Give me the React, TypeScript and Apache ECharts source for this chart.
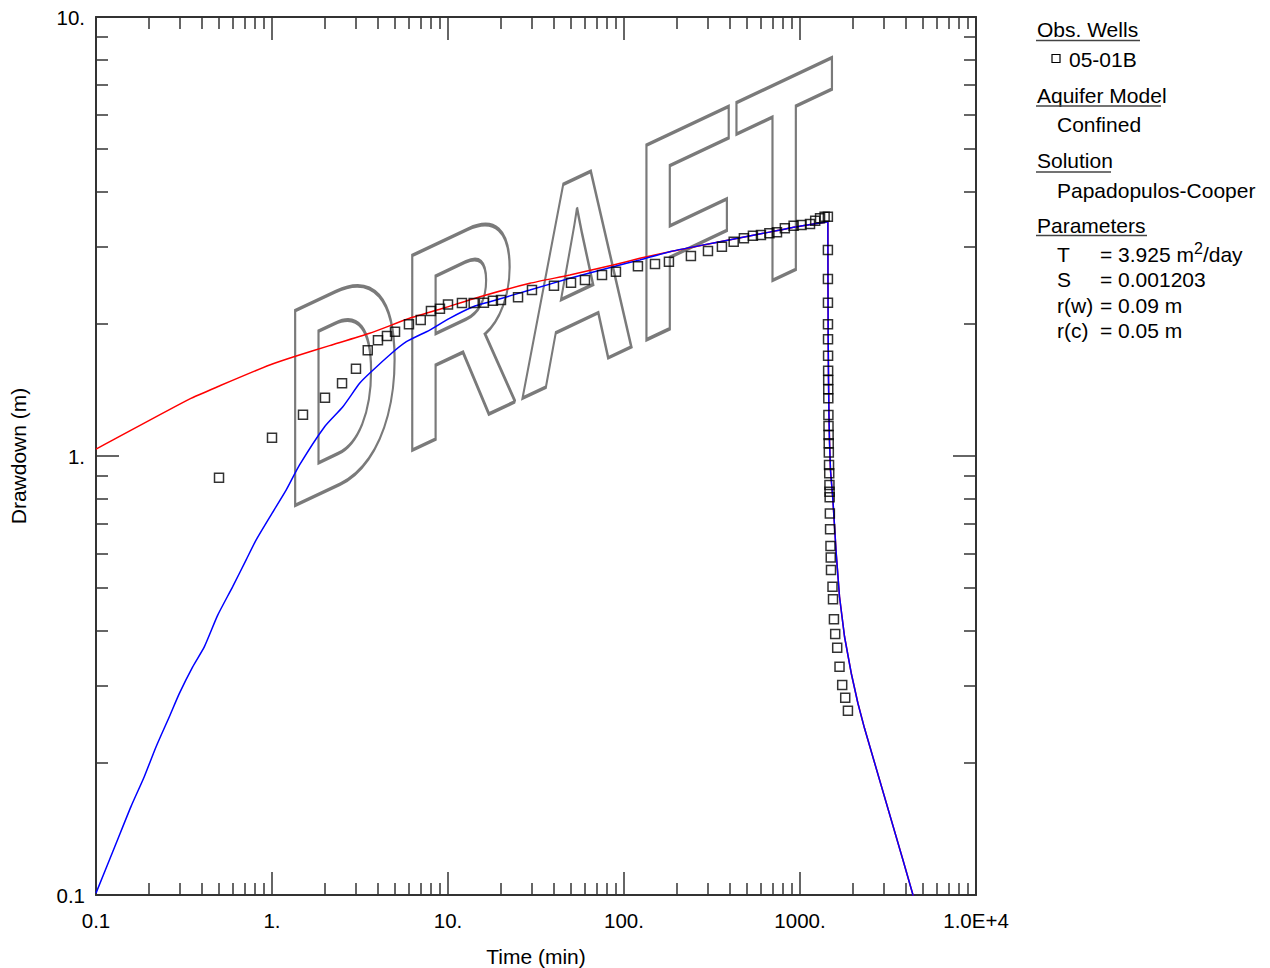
import React, { useEffect, useRef } from 'react';
import * as echarts from 'echarts';

const FONT = '"Liberation Sans", Arial, Helvetica, sans-serif';
const AX = '#333333';

// ---- tick values / labels ----
const xTickValues = [0.1, 1, 10, 100, 1000, 10000];
const xTickLabels = ['0.1', '1.', '10.', '100.', '1000.', '1.0E+4'];
const yTickValues = [0.1, 1, 10];
const yTickLabels = ['0.1', '1.', '10.'];
const minorMultipliers = [2, 3, 4, 5, 6, 7, 8, 9];
const xDecades = [0.1, 1, 10, 100, 1000];
const yDecades = [0.1, 1];

// ---- observed data (05-01B) ----
const obsTime = [
  0.5, 1, 1.5, 2, 2.5, 3, 3.5, 4, 4.5, 5, 6, 7, 8, 9, 10, 12, 14, 16, 18, 20,
  25, 30, 40, 50, 60, 75, 90, 120, 150, 180, 240, 300, 360, 420, 480, 540, 600,
  670, 740, 820, 920, 1020, 1140, 1220, 1300, 1380, 1440,
  1440.5, 1441, 1441.5, 1442, 1443, 1444, 1445, 1446, 1447, 1448, 1450, 1452,
  1454, 1456, 1458, 1462, 1466, 1470, 1472, 1474, 1478, 1482, 1490, 1495, 1500,
  1530, 1540, 1559, 1585, 1627, 1677, 1737, 1807, 1872,
];
const obsDrawdown = [
  0.892, 1.10, 1.242, 1.358, 1.464, 1.581, 1.741, 1.834, 1.876, 1.919, 1.995,
  2.04, 2.14, 2.165, 2.215, 2.23, 2.23, 2.234, 2.258, 2.267, 2.299, 2.388, 2.443,
  2.482, 2.517, 2.584, 2.63, 2.707, 2.737, 2.771, 2.855, 2.931, 2.998, 3.077,
  3.132, 3.175, 3.187, 3.216, 3.233, 3.302, 3.347, 3.359, 3.377, 3.436, 3.479,
  3.508, 3.508,
  2.946, 2.531, 2.235, 1.995, 1.844, 1.692, 1.564, 1.49, 1.419, 1.353, 1.24,
  1.17, 1.116, 1.069, 1.019, 0.954, 0.913, 0.859, 0.829, 0.805, 0.74, 0.681,
  0.624, 0.587, 0.55, 0.504, 0.472, 0.425, 0.393, 0.366, 0.331, 0.301, 0.2814,
  0.263,
];

// ---- Papadopulos-Cooper curve (blue) during pumping ----
const blueTime = [
  0.1, 0.13, 0.158, 0.188, 0.2195, 0.261, 0.2977, 0.3543, 0.413, 0.4916, 0.598,
  0.713, 0.813, 1.0, 1.205, 1.434, 1.99, 2.527, 3.146, 3.585, 4.66, 5.8, 7.87,
  10.2, 13.9, 17.3, 29.2, 49.2, 86.8, 123, 182, 351, 619, 959, 1440,
];
const blueDrawdown = [
  0.101, 0.131, 0.159, 0.186, 0.2177, 0.2548, 0.288, 0.331, 0.368, 0.434, 0.504,
  0.58, 0.644, 0.74, 0.837, 0.954, 1.166, 1.295, 1.464, 1.543, 1.699, 1.821,
  1.936, 2.059, 2.188, 2.246, 2.388, 2.54, 2.699, 2.796, 2.92, 3.077, 3.216,
  3.329, 3.418,
];

// ---- red curve during pumping ----
const redTime = [
  0.1, 0.1243, 0.3394, 0.503, 0.97, 1.373, 2.124, 3.585, 6.05, 9.37, 15.2, 29.2,
  49.2, 86.8, 123, 182, 351, 619, 959, 1440,
];
const redDrawdown = [
  1.037, 1.087, 1.348, 1.444, 1.612, 1.69, 1.784, 1.903, 2.059, 2.17, 2.306,
  2.474, 2.584, 2.723, 2.82, 2.92, 3.077, 3.216, 3.329, 3.418,
];

// ---- recovery part of both curves ----
const recoveryTime = [
  1440, 1441, 1443, 1446, 1452, 1460, 1471, 1490, 1538, 1606, 1677, 1790, 1955,
  2133, 2326, 3846, 4386, 4700,
];
const recoveryDrawdown = [
  3.418, 2.9, 2.3, 1.85, 1.5, 1.25, 1.08, 0.929, 0.794, 0.6, 0.478, 0.388, 0.32,
  0.2734, 0.2397, 0.1201, 0.1, 0.092,
];

const X_MIN = 0.09999999;
const X_MAX = 10000.0001;
const Y_MIN = 0.09999999;
const Y_MAX = 10.000001;

function zip(t: number[], s: number[]) {
  return t.map((v, i) => [v, s[i]]);
}

function minorValues(decades: number[]) {
  const out: number[] = [];
  decades.forEach((d) =>
    minorMultipliers.forEach((m) => out.push(parseFloat((d * m).toPrecision(6))))
  );
  return out;
}

function makeFormatter(vals: number[], labels: string[]) {
  return (v: number) => {
    const i = vals.findIndex((t) => Math.abs(Math.log10(v / t)) < 1e-4);
    return i >= 0 ? labels[i] : '';
  };
}

function xAxis(
  gridIndex: number,
  position: string,
  ticks: number[],
  len: number,
  showLine: boolean,
  showLabel: boolean
) {
  return {
    type: 'log',
    logBase: 10,
    gridIndex,
    position,
    min: X_MIN,
    max: X_MAX,
    axisLine: { show: showLine, onZero: false, lineStyle: { color: AX, width: 2 } },
    axisTick: {
      show: true,
      inside: true,
      length: len,
      customValues: ticks,
      lineStyle: { color: AX, width: 1.5 },
    },
    axisLabel: {
      show: showLabel,
      customValues: xTickValues,
      formatter: makeFormatter(xTickValues, xTickLabels),
      margin: 15,
      fontSize: 20.5,
      fontFamily: FONT,
      color: '#000',
      hideOverlap: false,
    },
    splitLine: { show: false },
    minorTick: { show: false },
  };
}

function yAxis(
  gridIndex: number,
  position: string,
  ticks: number[],
  len: number,
  showLine: boolean,
  showLabel: boolean
) {
  return {
    type: 'log',
    logBase: 10,
    gridIndex,
    position,
    min: Y_MIN,
    max: Y_MAX,
    axisLine: { show: showLine, onZero: false, lineStyle: { color: AX, width: 2 } },
    axisTick: {
      show: true,
      inside: true,
      length: len,
      customValues: ticks,
      lineStyle: { color: AX, width: 1.5 },
    },
    axisLabel: {
      show: showLabel,
      customValues: yTickValues,
      formatter: makeFormatter(yTickValues, yTickLabels),
      margin: 11,
      fontSize: 20.5,
      fontFamily: FONT,
      color: '#000',
      hideOverlap: false,
    },
    splitLine: { show: false },
    minorTick: { show: false },
  };
}

function draftWatermark() {
  // horizontal compression and baseline slope of the outlined word
  const sxw = 0.573;
  const slope = -0.471;
  const a = sxw, b = 0, c = slope * sxw, d = 1;
  const E = (a + d) / 2, F = (a - d) / 2, G = (c + b) / 2, H = (c - b) / 2;
  const Q = Math.hypot(E, H), R = Math.hypot(F, G);
  const s1 = Q + R, s2 = Q - R;
  const a1 = Math.atan2(G, F), a2 = Math.atan2(H, E);
  const theta = (a2 - a1) / 2, phi = (a2 + a1) / 2;
  return {
    type: 'group',
    x: 559,
    y: 283,
    rotation: -phi,
    scaleX: s1,
    scaleY: s2,
    z: 0,
    silent: true,
    children: [
      {
        type: 'text',
        rotation: -theta,
        style: {
          text: 'DRAFT',
          x: 0,
          y: 0,
          align: 'center',
          verticalAlign: 'middle',
          fontSize: 283,
          fontWeight: 'bold',
          fontFamily: FONT,
          fill: 'transparent',
          stroke: '#7a7a7a',
          lineWidth: 3.8,
        },
      },
    ],
  };
}

function txt(text: string, x: number, y: number, extra: any = {}) {
  return {
    type: 'text',
    z: 10,
    style: {
      text,
      x,
      y,
      align: 'left',
      verticalAlign: 'middle',
      fontSize: 21,
      fontFamily: FONT,
      fill: '#000',
      ...extra,
    },
  };
}

function uline(x1: number, x2: number, y: number) {
  return {
    type: 'line',
    z: 10,
    shape: { x1, y1: y, x2, y2: y },
    style: { stroke: '#444', lineWidth: 1.5 },
  };
}

function legendGraphics() {
  const hx = 1037;
  const ix = 1057;
  const ex = 1100;
  return [
    txt('Obs. Wells', hx, 29),
    uline(1036, 1140, 40.5),
    {
      type: 'rect',
      z: 10,
      shape: { x: 1052, y: 54.5, width: 8, height: 8 },
      style: { fill: '#fff', stroke: '#000', lineWidth: 1.2 },
    },
    txt('05-01B', 1069, 59),
    txt('Aquifer Model', hx, 95),
    uline(1036, 1161, 106),
    txt('Confined', ix, 124.5),
    txt('Solution', hx, 160),
    uline(1036, 1111, 172),
    txt('Papadopulos-Cooper', ix, 190.5),
    txt('Parameters', hx, 225),
    uline(1036, 1147, 235.5),
    txt('T', ix, 254),
    {
      type: 'text',
      z: 10,
      style: {
        text: '{n|= 3.925 m}{s|2}{n|/day}',
        x: ex,
        y: 254,
        align: 'left',
        verticalAlign: 'middle',
        fontFamily: FONT,
        fill: '#000',
        rich: {
          n: { fontSize: 21, lineHeight: 28, fontFamily: FONT, fill: '#000' },
          s: {
            fontSize: 16,
            lineHeight: 16,
            verticalAlign: 'top',
            fontFamily: FONT,
            fill: '#000',
          },
        },
      },
    },
    txt('S', ix, 279),
    txt('= 0.001203', ex, 279),
    txt('r(w)', ix, 305),
    txt('= 0.09 m', ex, 305),
    txt('r(c)', ix, 330),
    txt('= 0.05 m', ex, 330),
  ];
}

function lineSeries(name: string, data: number[][], color: string, z: number, smooth: number | boolean) {
  return {
    name,
    type: 'line',
    xAxisIndex: 0,
    yAxisIndex: 0,
    data,
    showSymbol: false,
    symbol: 'none',
    smooth,
    lineStyle: { color, width: 1.5 },
    clip: true,
    z,
  };
}

export default function App() {
  const ref = useRef<HTMLDivElement>(null);

  useEffect(() => {
    if (!ref.current) return;
    const chart = echarts.init(ref.current, null, { renderer: 'svg' });
    const xMinor = minorValues(xDecades);
    const yMinor = minorValues(yDecades);
    const gridRect = { left: 96, top: 17, right: 294, bottom: 73 };

    const option: any = {
      animation: false,
      backgroundColor: '#ffffff',
      grid: [
        { ...gridRect, containLabel: false },
        { ...gridRect, containLabel: false },
      ],
      xAxis: [
        xAxis(0, 'bottom', xTickValues, 23, true, true),
        xAxis(0, 'top', xTickValues, 23, true, false),
        xAxis(1, 'bottom', xMinor, 12, false, false),
        xAxis(1, 'top', xMinor, 12, false, false),
      ],
      yAxis: [
        yAxis(0, 'left', yTickValues, 23, true, true),
        yAxis(0, 'right', yTickValues, 23, true, false),
        yAxis(1, 'left', yMinor, 12, false, false),
        yAxis(1, 'right', yMinor, 12, false, false),
      ],
      series: [
        lineSeries('red', zip(redTime, redDrawdown), '#ff0000', 2, 0.2),
        lineSeries('redRecovery', zip(recoveryTime, recoveryDrawdown), '#ff0000', 2, false),
        lineSeries('blue', zip(blueTime, blueDrawdown), '#0000ff', 3, 0.2),
        lineSeries('blueRecovery', zip(recoveryTime, recoveryDrawdown), '#0000ff', 3, false),
        {
          name: '05-01B',
          type: 'scatter',
          xAxisIndex: 0,
          yAxisIndex: 0,
          data: zip(obsTime, obsDrawdown),
          symbol: 'rect',
          symbolSize: 9,
          itemStyle: { color: 'transparent', borderColor: '#000', borderWidth: 1.5 },
          z: 4,
        },
      ],
      graphic: [
        draftWatermark(),
        {
          type: 'text',
          z: 10,
          style: {
            text: 'Time (min)',
            x: 536,
            y: 956,
            align: 'center',
            verticalAlign: 'middle',
            fontSize: 21,
            fontFamily: FONT,
            fill: '#000',
          },
        },
        {
          type: 'text',
          z: 10,
          x: 18,
          y: 456,
          rotation: Math.PI / 2,
          style: {
            text: 'Drawdown (m)',
            x: 0,
            y: 0,
            align: 'center',
            verticalAlign: 'middle',
            fontSize: 21,
            fontFamily: FONT,
            fill: '#000',
          },
        },
        ...legendGraphics(),
      ],
    };
    chart.setOption(option);
    return () => chart.dispose();
  }, []);

  return (
    <div
      ref={ref}
      style={{ position: 'absolute', left: 0, top: 0, width: 1270, height: 968 }}
    />
  );
}
